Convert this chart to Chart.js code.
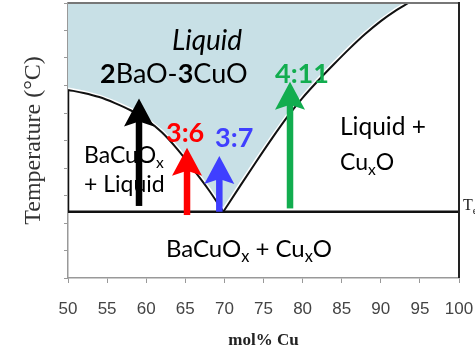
<!DOCTYPE html>
<html>
<head>
<meta charset="utf-8">
<title>BaO-CuO phase diagram</title>
<script src="https://cdn.jsdelivr.net/npm/chart.js@4/dist/chart.umd.min.js"></script>
<style>
  html, body { margin: 0; padding: 0; background: #fff; }
  #diagrama { display: block; }
</style>
</head>
<body>
<canvas id="diagrama" width="475" height="353"></canvas>
<script>
// x axis ticks, mol% Cu
const molTicks = [50, 55, 60, 65, 70, 75, 80, 85, 90, 95, 100];

// liquidus on the BaCuOx side (temperature in axis units 0..10, no labels on y)
const liqLeftCu = [50, 52, 54, 56, 58, 60, 62, 64, 66, 68, 69.86];
const liqLeftT = [6.84, 6.73, 6.58, 6.36, 6.10, 5.76, 5.30, 4.68, 3.96, 3.20, 2.41];

// liquidus on the CuxO side
const liqRightCu = [69.86, 72, 74, 76, 78, 80, 82, 84, 86, 88, 90, 92, 93.52];
const liqRightT = [2.41, 3.34, 4.20, 5.04, 5.84, 6.55, 7.18, 7.77, 8.34, 8.87, 9.34, 9.74, 10.0];

// eutectic line
const eutecticT = 2.41;

// melt compositions (arrows)
const arrowCu = [59.08, 65.22, 69.35, 78.39];
const arrowFromT = [2.62, 2.29, 2.41, 2.53];
const arrowToT = [6.53, 4.74, 4.44, 7.14];
const arrowColors = ['#000000', '#ff0000', '#3f3fff', '#12ad4f'];

const liquidBlue = '#c8e0e6';
const textFont = 'Lato, "Open Sans", sans-serif';

// region names and ratios, placed in data coordinates (left edge, baseline)
const textLabels = [
  { cu: 63.3, t: 8.29, size: 28, parts: [{ t: 'Liquid', italic: true }] },
  { cu: 54.09, t: 7.09, size: 27, parts: [{ t: '2', bold: true }, { t: 'BaO-' }, { t: '3', bold: true }, { t: 'CuO' }] },
  { cu: 62.53, t: 4.95, size: 27, color: '#ff0000', parts: [{ t: '3:6', bold: true }] },
  { cu: 68.80, t: 4.76, size: 27, color: '#3f3fff', parts: [{ t: '3:7', bold: true }] },
  { cu: 76.47, t: 7.09, size: 27, color: '#12ad4f', parts: [{ t: '4:11', bold: true }] },
  { cu: 52.05, t: 4.18, size: 23, parts: [{ t: 'BaCuO' }, { t: 'x', sub: true }] },
  { cu: 52.05, t: 3.13, size: 23, parts: [{ t: '+ Liquid' }] },
  { cu: 84.78, t: 5.2, size: 24.5, parts: [{ t: 'Liquid +' }] },
  { cu: 84.78, t: 3.93, size: 23, parts: [{ t: 'Cu' }, { t: 'x', sub: true }, { t: 'O' }] },
  { cu: 62.53, t: 0.76, size: 24, parts: [{ t: 'BaCuO' }, { t: 'x', sub: true }, { t: ' + Cu' }, { t: 'x', sub: true }, { t: 'O' }] },
  { cu: 100.5, t: 2.47, size: 16, family: '"Liberation Serif", serif', color: '#222', parts: [{ t: 'T' }, { t: 'e', sub: true }] }
];

function toPoints(xs, ys) {
  return xs.map((x, i) => ({ x: x, y: ys[i] }));
}

// text with bold / italic / subscript pieces
function drawRuns(ctx, x, y, label) {
  const family = label.family || textFont;
  let cx = x;
  label.parts.forEach(p => {
    const size = p.sub ? label.size * 0.68 : label.size;
    ctx.font = (p.italic ? 'italic ' : '') + (p.bold ? 'bold ' : '') + size + 'px ' + family;
    ctx.fillText(p.t, cx, y + (p.sub ? label.size * 0.22 : 0));
    cx += ctx.measureText(p.t).width;
  });
}

function drawArrow(ctx, px, yTail, yTip, color) {
  const headLen = 28, headHalf = 15, notch = 5, shaft = 6.5;
  ctx.fillStyle = color;
  const shaftTop = yTip + headLen - notch - 1;
  ctx.fillRect(px - shaft / 2, shaftTop, shaft, yTail - shaftTop);
  ctx.beginPath();
  ctx.moveTo(px, yTip);
  ctx.lineTo(px + headHalf, yTip + headLen);
  ctx.lineTo(px, yTip + headLen - notch);
  ctx.lineTo(px - headHalf, yTip + headLen);
  ctx.closePath();
  ctx.fill();
}

const annotations = {
  id: 'annotations',
  afterDatasetsDraw(chart) {
    const ctx = chart.ctx;
    const x = chart.scales.x;
    const y = chart.scales.y;
    ctx.save();
    ctx.textBaseline = 'alphabetic';
    ctx.textAlign = 'left';
    textLabels.forEach(l => {
      ctx.fillStyle = l.color || '#000';
      drawRuns(ctx, x.getPixelForValue(l.cu), y.getPixelForValue(l.t), l);
    });
    // arrows go over the text
    arrowCu.forEach((cu, i) => {
      drawArrow(ctx, x.getPixelForValue(cu), y.getPixelForValue(arrowFromT[i]),
        y.getPixelForValue(arrowToT[i]), arrowColors[i]);
    });
    ctx.restore();
  },
  afterDraw(chart) {
    // frame: top and right side
    const ctx = chart.ctx;
    const a = chart.chartArea;
    ctx.save();
    ctx.lineWidth = 2;
    ctx.strokeStyle = '#777';
    ctx.beginPath();
    ctx.moveTo(a.left, a.top);
    ctx.lineTo(a.right, a.top);
    ctx.stroke();
    ctx.strokeStyle = '#222';
    ctx.beginPath();
    ctx.moveTo(a.right, a.top - 1);
    ctx.lineTo(a.right, a.bottom);
    ctx.stroke();
    ctx.restore();
  }
};

const curve = { pointRadius: 0, cubicInterpolationMode: 'monotone' };

// whole liquidus (both branches) for the shaded liquid field
const liquidusCu = liqLeftCu.concat(liqRightCu.slice(1));
const liquidusT = liqLeftT.concat(liqRightT.slice(1));

new Chart(document.getElementById('diagrama'), {
  type: 'line',
  data: {
    datasets: [
      Object.assign({ data: toPoints(liqLeftCu, liqLeftT), borderColor: '#111', borderWidth: 2 }, curve),
      Object.assign({ data: toPoints(liqRightCu, liqRightT), borderColor: '#111', borderWidth: 2 }, curve),
      {
        data: [{ x: 50, y: liqLeftT[0] }, { x: 50, y: eutecticT }, { x: 100, y: eutecticT }],
        borderColor: '#111', borderWidth: 2.5, pointRadius: 0
      },
      // liquid region, with a thin white edge under the black line
      {
        data: toPoints(liquidusCu, liquidusT),
        fill: 'end',
        backgroundColor: liquidBlue,
        borderColor: '#fff',
        borderWidth: 5,
        pointRadius: 0
      }
    ]
  },
  options: {
    responsive: false,
    animation: false,
    devicePixelRatio: 1,
    layout: { padding: { top: 3, right: 0, left: 0, bottom: 0 } },
    plugins: { legend: { display: false }, tooltip: { enabled: false } },
    scales: {
      x: {
        type: 'linear',
        min: 50,
        max: 100,
        afterBuildTicks: s => { s.ticks = molTicks.map(v => ({ value: v })); },
        afterFit: s => { s.height = 75; s.paddingLeft = 0; s.paddingRight = 16; },
        ticks: {
          color: '#444',
          padding: 16,
          font: { family: '"Liberation Sans Narrow", "Arial Narrow", "Liberation Sans", sans-serif', size: 17 }
        },
        grid: { drawOnChartArea: false, color: '#999', tickLength: 5 },
        border: { color: '#999', width: 1.5 },
        title: {
          display: true,
          text: 'mol% Cu',
          color: '#222',
          font: { family: '"Liberation Serif", serif', size: 17, weight: 'bold' },
          padding: { top: 0, bottom: 2 }
        }
      },
      y: {
        min: 0,
        max: 10,
        afterFit: s => { s.width = 68; },
        ticks: { stepSize: 1, display: false },
        grid: { drawOnChartArea: false, color: '#999', tickLength: 4 },
        border: { color: '#999', width: 1.5 },
        title: {
          display: true,
          text: 'Temperature (°C)',
          color: '#333',
          font: { family: '"Liberation Serif", serif', size: 24 },
          padding: { top: 19, bottom: 0 }
        }
      }
    }
  },
  plugins: [annotations]
});
</script>
</body>
</html>
